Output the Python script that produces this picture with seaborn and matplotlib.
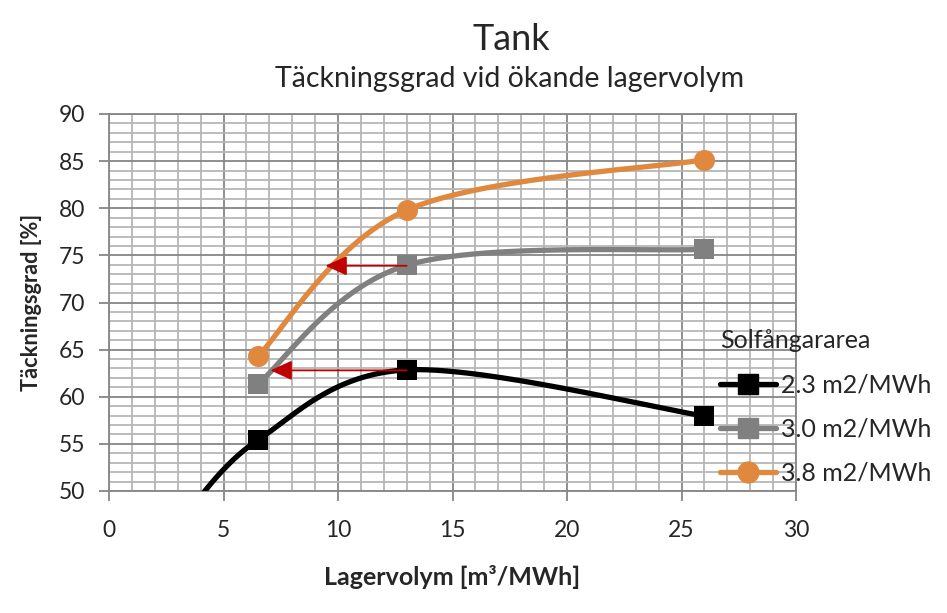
import numpy as np
import matplotlib
matplotlib.use("Agg")
import matplotlib.pyplot as plt
import seaborn as sns
import pandas as pd
from matplotlib.lines import Line2D

# ---- data ----
series_names = ["2.3 m2/MWh", "3.0 m2/MWh", "3.8 m2/MWh"]
x_black = [3.25, 6.5, 13, 26]
y_black = [47.2, 55.4, 62.85, 57.95]
x_gray = [6.5, 13, 26]
y_gray = [61.35, 73.95, 75.65]
x_orange = [6.5, 13, 26]
y_orange = [64.3, 79.8, 85.15]
arrow_from = [(13, 73.9), (13, 62.8)]
arrow_to = [(9.45, 73.9), (7.05, 62.8)]
x_ticks = [0, 5, 10, 15, 20, 25, 30]
y_ticks = [50, 55, 60, 65, 70, 75, 80, 85, 90]

colors = ["#000000", "#808080", "#E0883E"]
markers = ["s", "s", "o"]

sns.set_theme(style="white")
plt.rcParams["font.family"] = ["Lato", "DejaVu Sans"]


def smooth(xs, ys, n=60):
    P = np.column_stack([xs, ys]).astype(float)
    Pext = np.vstack([P[0], P, P[-1]])
    out = []
    for i in range(1, len(Pext) - 2):
        p0, p1, p2, p3 = Pext[i - 1], Pext[i], Pext[i + 1], Pext[i + 2]
        b0 = p1
        b1 = p1 + (p2 - p0) / 6.0
        b2 = p2 - (p3 - p1) / 6.0
        b3 = p2
        t = np.linspace(0, 1, n)[:, None]
        seg = ((1 - t) ** 3) * b0 + 3 * ((1 - t) ** 2) * t * b1 + 3 * (1 - t) * t ** 2 * b2 + t ** 3 * b3
        out.append(seg if i == 1 else seg[1:])
    return np.vstack(out)


fig = plt.figure(figsize=(9.47, 6.13), dpi=100)
ax = fig.add_axes([109 / 947, 1 - 491 / 613, (796 - 109) / 947, (491 - 114) / 613])

ax.set_xlim(0, 30)
ax.set_ylim(50, 90)
ax.set_xticks(x_ticks)
ax.set_yticks(y_ticks)
ax.set_xticks(np.arange(0, 31, 1), minor=True)
ax.set_yticks(np.arange(50, 91, 1), minor=True)
ax.grid(which="minor", color="#b6b6b6", lw=1.3, zorder=0)
ax.grid(which="major", color="#868686", lw=1.3, zorder=0)
ax.set_axisbelow(True)
for s in ax.spines.values():
    s.set_color("#868686")
    s.set_linewidth(1.3)
ax.tick_params(axis="both", which="major", direction="out", length=7, width=1.3,
               color="#868686", labelsize=16.5, left=True, bottom=True)
ax.tick_params(axis="x", which="major", pad=14)
ax.tick_params(axis="y", which="major", pad=10)
ax.tick_params(axis="both", which="minor", length=0)

all_series = [(x_black, y_black), (x_gray, y_gray), (x_orange, y_orange)]
for (xs, ys), c, m, name in zip(all_series, colors, markers, series_names):
    curve = smooth(xs, ys)
    df = pd.DataFrame({"x": curve[:, 0], "y": curve[:, 1]})
    sns.lineplot(data=df, x="x", y="y", sort=False, color=c, lw=3.8, ax=ax,
                 zorder=3, clip_on=True)
    dp = pd.DataFrame({"x": xs, "y": ys})
    sns.scatterplot(data=dp, x="x", y="y", color=c, marker=m, s=200 if m == "s" else 230,
                    edgecolor=c, linewidth=0, ax=ax, zorder=4)

for (x0, y0), (x1, y1) in zip(arrow_from, arrow_to):
    ax.annotate("", xy=(x1, y1), xytext=(x0, y0),
                arrowprops=dict(arrowstyle="-|>,head_length=1.1,head_width=0.5",
                                color="#C00000", lw=1.3, shrinkA=0, shrinkB=0),
                zorder=5)

ax.set_xlabel("Lagervolym [m³/MWh]", fontsize=18, fontweight="bold", labelpad=17)
ax.set_ylabel("Täckningsgrad [%]", fontsize=15.7, fontweight="bold", labelpad=12)

fig.text(511 / 947, 1 - 50 / 613, "Tank", ha="center", va="baseline", fontsize=26)
fig.text(510 / 947, 1 - 87 / 613, "Täckningsgrad vid ökande lagervolym", ha="center",
         va="baseline", fontsize=20.5)

handles = [Line2D([0], [0], color=c, lw=3.8, marker=m, markersize=14 if m == "s" else 15)
           for c, m in zip(colors, markers)]
leg = fig.legend(handles, series_names, title="Solfångararea", loc="upper left",
                 bbox_to_anchor=(710 / 947, 1 - 319 / 613), frameon=False, fontsize=18,
                 title_fontsize=18, handlelength=2.25, handletextpad=0.2,
                 labelspacing=0.85, borderaxespad=0)
leg._legend_box.align = "left"

fig.savefig("out.png", dpi=100)
